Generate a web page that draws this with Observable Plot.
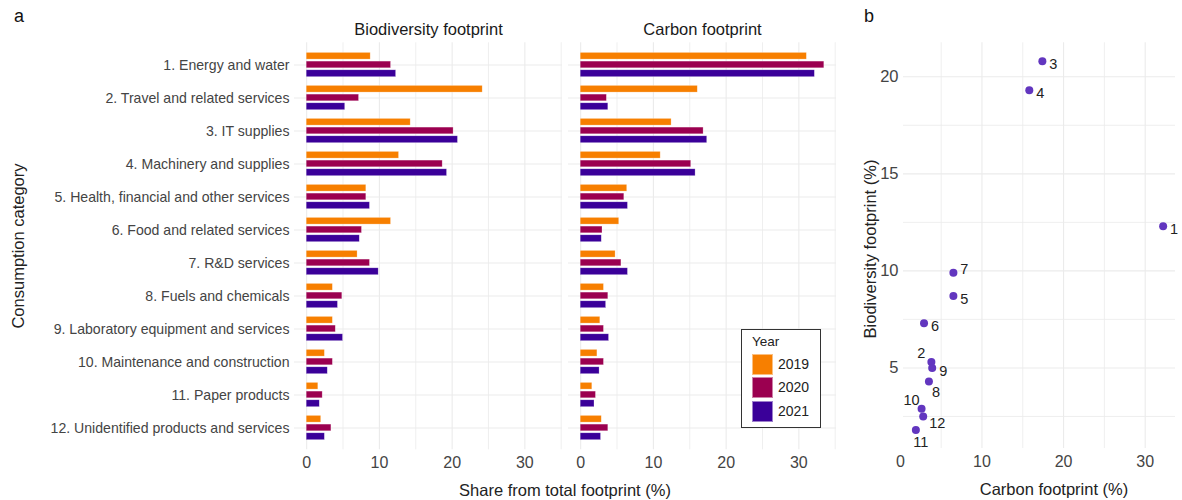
<!DOCTYPE html>
<html>
<head>
<meta charset="utf-8">
<script src="https://cdn.jsdelivr.net/npm/d3@7"></script>
<script src="https://cdn.jsdelivr.net/npm/@observablehq/plot@0.6"></script>
<style>
  html, body { margin: 0; padding: 0; background: #fff; }
  #wrap { position: relative; width: 1182px; height: 500px; font-family: "Liberation Sans", Arial, sans-serif; color: #222; }
  .abs { position: absolute; white-space: nowrap; }
  #legend { position: absolute; left: 741px; top: 329px; width: 78px; height: 97px; border: 1.3px solid #333; background: #fff; }
  .sw { position: absolute; left: 10px; width: 21px; height: 21px; box-sizing: border-box; border: 0.6px solid rgba(255,255,255,0.5); }
  .swl { position: absolute; left: 36px; font-size: 14px; color: #222; }
</style>
</head>
<body>
<div id="wrap"></div>
<script>
// ---------- data ----------
const categories = [
  "1. Energy and water",
  "2. Travel and related services",
  "3. IT supplies",
  "4. Machinery and supplies",
  "5. Health, financial and other services",
  "6. Food and related services",
  "7. R&D services",
  "8. Fuels and chemicals",
  "9. Laboratory equipment and services",
  "10. Maintenance and construction",
  "11. Paper products",
  "12. Unidentified products and services"
];
const years = ["2019", "2020", "2021"];
const panels = ["Biodiversity footprint", "Carbon footprint"];
const yearColors = ["#F77F00", "#9B0050", "#3A0099"];

const bio2019 = [8.8, 24.2, 14.3, 12.7, 8.2, 11.6, 7.0, 3.6, 3.6, 2.5, 1.6, 2.0];
const bio2020 = [11.6, 7.2, 20.2, 18.7, 8.2, 7.6, 8.7, 4.9, 4.0, 3.6, 2.2, 3.4];
const bio2021 = [12.3, 5.3, 20.8, 19.3, 8.7, 7.3, 9.9, 4.3, 5.0, 2.9, 1.8, 2.5];
const carbon2019 = [31.1, 16.1, 12.5, 11.0, 6.4, 5.3, 4.8, 3.2, 2.7, 2.3, 1.6, 2.9];
const carbon2020 = [33.5, 3.6, 16.9, 15.2, 6.0, 3.0, 5.6, 3.8, 3.2, 3.2, 2.1, 3.8];
const carbon2021 = [32.2, 3.8, 17.4, 15.8, 6.5, 2.9, 6.5, 3.5, 3.9, 2.6, 1.9, 2.8];

const xTicks = [0, 10, 20, 30];
const bioTicks = [5, 10, 15, 20];

// ---------- tables ----------
const series = {
  "Biodiversity footprint": [bio2019, bio2020, bio2021],
  "Carbon footprint": [carbon2019, carbon2020, carbon2021]
};
const rows = [];
for (const p of panels) {
  series[p].forEach((arr, yi) => {
    arr.forEach((v, ci) => rows.push({panel: p, category: categories[ci], year: years[yi], value: v}));
  });
}
const scatter = categories.map((c, i) => ({
  id: String(i + 1), carbon: carbon2021[i], bio: bio2021[i]
}));

const font = "Liberation Sans, Arial, sans-serif";
const gridCol = "#ebebeb";

// ---------- panel a ----------
const maxBar = d3.max(rows, d => d.value);
const xDomain = [-0.05 * maxBar, maxBar * 1.05];
const insets = {
  "2019": {insetTop: 4.4, insetBottom: 21.9},
  "2020": {insetTop: 13.1, insetBottom: 13.2},
  "2021": {insetTop: 21.8, insetBottom: 4.3}
};
const barMarks = years.map(yr => Plot.barX(rows.filter(d => d.year === yr), {
  fx: "panel", y: "category", x1: 0, x2: "value",
  fill: "year", stroke: "white", strokeOpacity: 0.45, strokeWidth: 0.6,
  ...insets[yr]
}));

const plotA = Plot.plot({
  width: 850, height: 500,
  marginLeft: 293.3, marginRight: 13, marginTop: 42.3, marginBottom: 50.7,
  style: {fontFamily: font, background: "transparent"},
  fx: {domain: panels, paddingInner: 0.022, paddingOuter: 0, label: null},
  x: {domain: xDomain},
  y: {type: "band", domain: categories, paddingInner: 0, paddingOuter: 0.1},
  color: {domain: years, range: yearColors},
  marks: [
    Plot.gridX({ticks: [5, 15, 25, 35], stroke: gridCol, strokeOpacity: 1, strokeWidth: 0.8}),
    Plot.gridX({ticks: xTicks, stroke: gridCol, strokeOpacity: 1, strokeWidth: 1.1}),
    Plot.gridY({stroke: gridCol, strokeOpacity: 1, strokeWidth: 1.1}),
    ...barMarks,
    Plot.axisY({tickSize: 0, tickPadding: 5, fontSize: 14.1, fill: "#444", label: null}),
    Plot.axisX({ticks: xTicks, tickSize: 0, tickPadding: 7, fontSize: 16, fill: "#444", label: null}),
    Plot.axisFx({anchor: "top", tickSize: 0, tickPadding: 8, fontSize: 16.5, fill: "#1a1a1a", label: null})
  ]
});

// ---------- panel b ----------
const cx = d3.extent(scatter, d => d.carbon);
const cy = d3.extent(scatter, d => d.bio);
const ex = (cx[1] - cx[0]) * 0.05, ey = (cy[1] - cy[0]) * 0.05;
const labelNudges = [
  {ids: ["1", "3", "4", "5", "6", "9"], dx: 11, dy: 3.5},
  {ids: ["7"], dx: 11, dy: -3},
  {ids: ["12"], dx: 14, dy: 7},
  {ids: ["2", "10"], dx: -10, dy: -8.5},
  {ids: ["8"], dx: 7, dy: 11},
  {ids: ["11"], dx: 5, dy: 12}
];
const labelMarks = labelNudges.map(g => Plot.text(scatter.filter(d => g.ids.includes(d.id)), {
  x: "carbon", y: "bio", text: "id", dx: g.dx, dy: g.dy,
  fontSize: 14.5, fill: "#222", textAnchor: "middle"
}));

const plotB = Plot.plot({
  width: 332, height: 500,
  marginLeft: 53, marginRight: 7, marginTop: 42.3, marginBottom: 52,
  style: {fontFamily: font, background: "transparent", overflow: "visible"},
  x: {domain: [cx[0] - ex, cx[1] + ex]},
  y: {domain: [cy[0] - ey, cy[1] + ey]},
  marks: [
    Plot.gridX({ticks: [5, 15, 25], stroke: gridCol, strokeOpacity: 1, strokeWidth: 0.8}),
    Plot.gridX({ticks: [10, 20, 30], stroke: gridCol, strokeOpacity: 1, strokeWidth: 1.1}),
    Plot.gridY({ticks: [2.5, 7.5, 12.5, 17.5], stroke: gridCol, strokeOpacity: 1, strokeWidth: 0.8}),
    Plot.gridY({ticks: bioTicks, stroke: gridCol, strokeOpacity: 1, strokeWidth: 1.1}),
    Plot.dot(scatter, {x: "carbon", y: "bio", r: 4, fill: "#6236bf", stroke: "none"}),
    ...labelMarks,
    Plot.axisY({ticks: bioTicks, tickSize: 0, tickPadding: 5, fontSize: 16.5, fill: "#444", label: null}),
    Plot.axisX({ticks: xTicks, tickSize: 0, tickPadding: 7, fontSize: 16, fill: "#444", label: null})
  ]
});

// ---------- assemble ----------
const wrap = document.getElementById("wrap");
plotA.style.position = "absolute"; plotA.style.left = "0px"; plotA.style.top = "0px";
plotB.style.position = "absolute"; plotB.style.left = "850px"; plotB.style.top = "0px";
wrap.appendChild(plotA);
wrap.appendChild(plotB);

function addText(txt, css) {
  const d = document.createElement("div");
  d.className = "abs";
  d.textContent = txt;
  Object.assign(d.style, css);
  wrap.appendChild(d);
  return d;
}
addText("a", {left: "14px", top: "6px", fontSize: "18px", color: "#111"});
addText("b", {left: "864px", top: "6px", fontSize: "18px", color: "#111"});
addText("Consumption category", {left: "18px", top: "246px", fontSize: "16.5px", color: "#222",
  transform: "translate(-50%, -50%) rotate(-90deg)"});
addText("Biodiversity footprint (%)", {left: "870px", top: "249px", fontSize: "16.5px", color: "#222",
  transform: "translate(-50%, -50%) rotate(-90deg)"});
addText("Share from total footprint (%)", {left: "565px", top: "490px", fontSize: "16.5px", color: "#222",
  transform: "translate(-50%, -50%)"});
addText("Carbon footprint (%)", {left: "1054px", top: "489px", fontSize: "16.5px", color: "#222",
  transform: "translate(-50%, -50%)"});

// legend
const leg = document.createElement("div");
leg.id = "legend";
const lt = document.createElement("div");
lt.textContent = "Year";
Object.assign(lt.style, {position: "absolute", left: "10px", top: "4px", fontSize: "13.5px", color: "#222"});
leg.appendChild(lt);
years.forEach((y, i) => {
  const s = document.createElement("div");
  s.className = "sw";
  s.style.top = (24 + i * 23.3) + "px";
  s.style.background = yearColors[i];
  leg.appendChild(s);
  const l = document.createElement("div");
  l.className = "swl";
  l.textContent = y;
  l.style.top = (26 + i * 23.3) + "px";
  leg.appendChild(l);
});
wrap.appendChild(leg);
</script>
</body>
</html>
